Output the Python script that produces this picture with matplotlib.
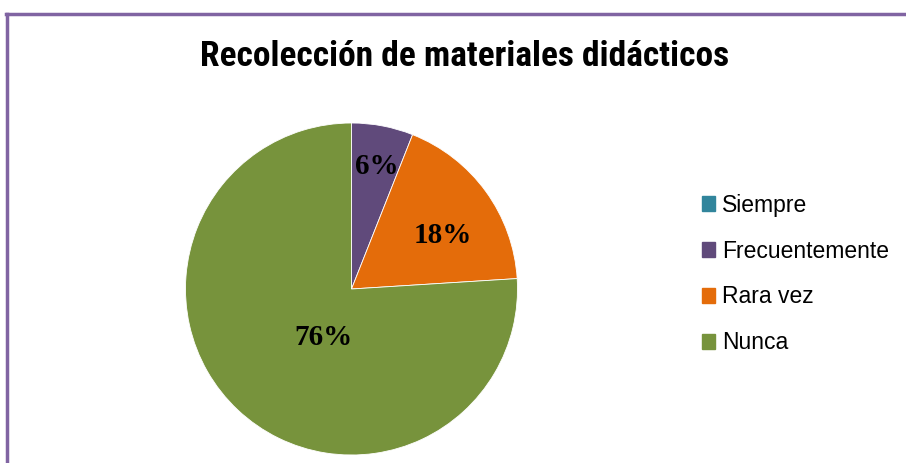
import matplotlib; matplotlib.use("Agg")
import matplotlib.pyplot as plt
from matplotlib.lines import Line2D
from matplotlib.patches import Patch

CATS = ["Siempre", "Frecuentemente", "Rara vez", "Nunca"]
VALS = [0, 6, 18, 76]
COLS = ["#31859C", "#604A7B", "#E46C0A", "#77933C"]
TITLE = "Recolección de materiales didácticos"

W, H = 906, 463
fig = plt.figure(figsize=(W/100, H/100), dpi=100)

# purple frame (top + left edges visible)
fig.add_artist(Line2D([6/W, 1], [1-14/H, 1-14/H], color="#8064A2", lw=2.5))
fig.add_artist(Line2D([7/W, 7/W], [0, 1-14/H], color="#8064A2", lw=2.5))

fig.text(465/W, 1-57/H, TITLE, ha="center", va="center", fontsize=25.5,
         fontweight="bold", family=["Roboto Condensed", "DejaVu Sans"])

cx, cy, r = 351.5, 289, 166
ax = fig.add_axes([(cx-r)/W, 1-(cy+r)/H, 2*r/W, 2*r/H])
wedges, _ = ax.pie(VALS, colors=COLS, startangle=90, counterclock=False,
                   wedgeprops=dict(edgecolor="white", linewidth=0.6))
ax.set_xlim(-1, 1); ax.set_ylim(-1, 1); ax.set_aspect("equal")

# data labels (manual placement like the original)
lab_pos = {1: (0.155, 0.74), 2: (0.55, 0.32), 3: (-0.17, -0.29)}
for i, (x, y) in lab_pos.items():
    ax.text(x, y, f"{VALS[i]}%", ha="center", va="center", fontsize=21,
            fontweight="bold", family="Liberation Serif")

fig.legend(handles=[Patch(color=c, label=n) for n, c in zip(CATS, COLS)],
           loc="center left", bbox_to_anchor=(681/W, 1-274/H), frameon=False,
           prop=dict(family="Liberation Sans", size=16.5), handlelength=0.6, handleheight=0.6,
           handletextpad=0.3, labelspacing=1.0)

fig.savefig("out.png", dpi=100)
